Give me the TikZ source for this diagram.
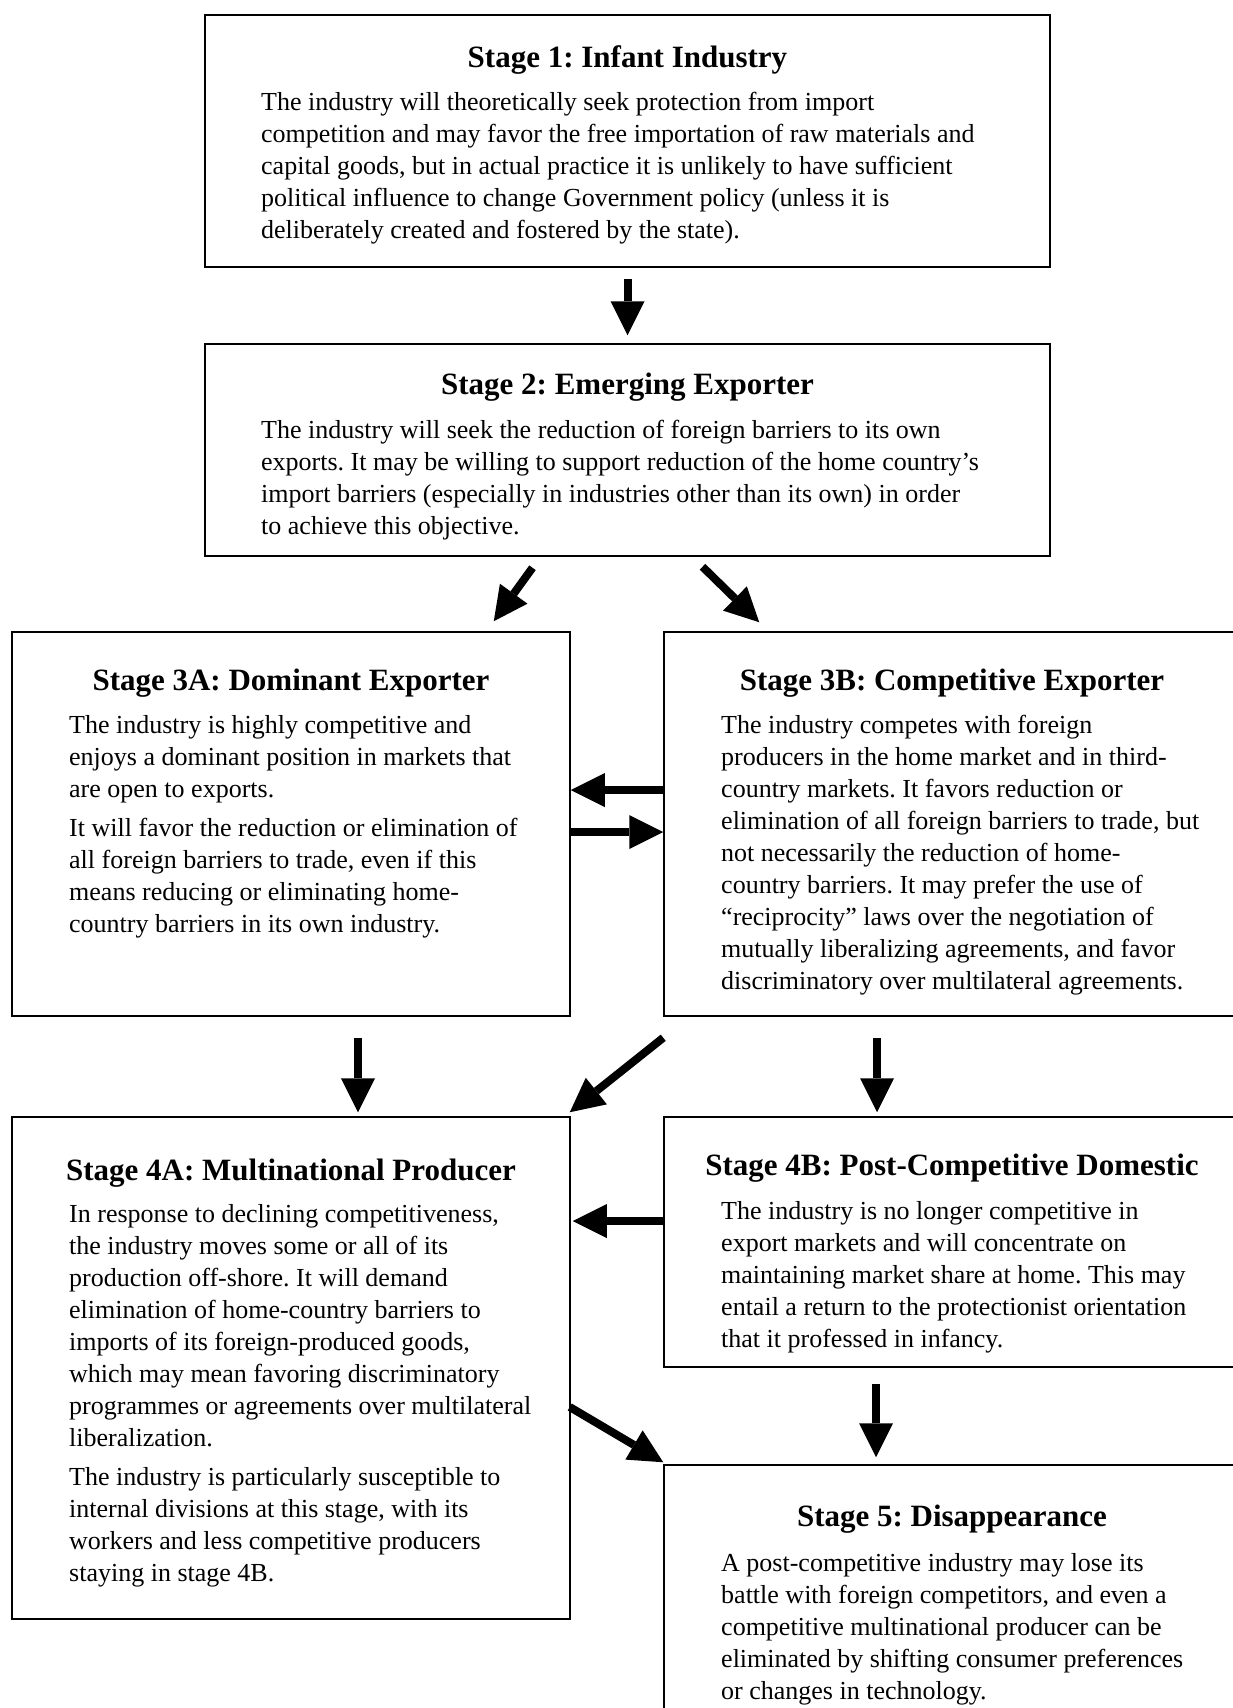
\documentclass[tikz,border=0pt]{standalone}
\usepackage{fontspec}
\setmainfont{Liberation Serif}
\usetikzlibrary{arrows.meta,positioning,calc}
\frenchspacing
\tikzset{stagebox/.style={draw, line width=1.5pt, inner sep=0pt}}
\tikzset{stagetitle/.style={font=\fontsize{31}{36}\selectfont\bfseries, inner sep=0pt}}
\tikzset{stagetext/.style={font=\fontsize{26}{32}\selectfont, align=left, anchor=north west, inner sep=0pt}}
\tikzset{flow/.style={-{Triangle[length=34pt,width=34pt,line width=0pt]}, line width=8pt}}

\begin{document}
\begin{tikzpicture}[x=1pt,y=-1pt]
\useasboundingbox (0,0) rectangle (1233,1708);
\clip (0,0) rectangle (1233,1708);

\node[stagebox, minimum width=845pt, minimum height=252pt] (s1) at (627.5,141) {};
\node[stagebox, minimum width=845pt, minimum height=212pt] (s2) at (627.5,450) {};
\node[stagebox, minimum width=558pt, minimum height=384pt] (s3a) at (291,824) {};
\node[stagebox, minimum width=576pt, minimum height=384pt] (s3b) at (952,824) {};
\node[stagebox, minimum width=558pt, minimum height=502pt] (s4a) at (291,1368) {};
\node[stagebox, minimum width=576pt, minimum height=250pt] (s4b) at (952,1242) {};
\node[stagebox, minimum width=576pt, minimum height=265pt] (s5) at (952,1597.5) {};

\node[stagetitle] (t1) at (627.5,60) {Stage 1: Infant Industry};
\node[stagetext] (b1) at (261,92) {The industry will theoretically seek protection from import\\
competition and may favor the free importation of raw materials and\\
capital goods, but in actual practice it is unlikely to have sufficient\\
political influence to change Government policy (unless it is\\
deliberately created and fostered by the state).};

\node[stagetitle] (t2) at (627.5,387) {Stage 2: Emerging Exporter};
\node[stagetext] (b2) at (261,420) {The industry will seek the reduction of foreign barriers to its own\\
exports. It may be willing to support reduction of the home country’s\\
import barriers (especially in industries other than its own) in order\\
to achieve this objective.};

\node[stagetitle] (t3a) at (291,683) {Stage 3A: Dominant Exporter};
\node[stagetext] (b3a) at (69,715) {The industry is highly competitive and\\
enjoys a dominant position in markets that\\
are open to exports.\\[7pt]
It will favor the reduction or elimination of\\
all foreign barriers to trade, even if this\\
means reducing or eliminating home-\\
country barriers in its own industry.};

\node[stagetitle] (t3b) at (952,683) {Stage 3B: Competitive Exporter};
\node[stagetext] (b3b) at (721,715) {The industry competes with foreign\\
producers in the home market and in third-\\
country markets. It favors reduction or\\
elimination of all foreign barriers to trade, but\\
not necessarily the reduction of home-\\
country barriers. It may prefer the use of\\
“reciprocity” laws over the negotiation of\\
mutually liberalizing agreements, and favor\\
discriminatory over multilateral agreements.};

\node[stagetitle] (t4a) at (291,1173) {Stage 4A: Multinational Producer};
\node[stagetext] (b4a) at (69,1204) {In response to declining competitiveness,\\
the industry moves some or all of its\\
production off-shore. It will demand\\
elimination of home-country barriers to\\
imports of its foreign-produced goods,\\
which may mean favoring discriminatory\\
programmes or agreements over multilateral\\
liberalization.\\[7pt]
The industry is particularly susceptible to\\
internal divisions at this stage, with its\\
workers and less competitive producers\\
staying in stage 4B.};

\node[stagetitle] (t4b) at (952,1168) {Stage 4B: Post-Competitive Domestic};
\node[stagetext] (b4b) at (721,1201) {The industry is no longer competitive in\\
export markets and will concentrate on\\
maintaining market share at home. This may\\
entail a return to the protectionist orientation\\
that it professed in infancy.};

\node[stagetitle] (t5) at (952,1519) {Stage 5: Disappearance};
\node[stagetext] (b5) at (721,1553) {A post-competitive industry may lose its\\
battle with foreign competitors, and even a\\
competitive multinational producer can be\\
eliminated by shifting consumer preferences\\
or changes in technology.};

\draw[flow, shorten <=11pt, shorten >=8pt] (s1.south) -- (s2.north);
\draw[flow] ($(s2.south)+(-95,11)$) -- ($(s3a.north east)+(-77,-10)$);
\draw[flow] ($(s2.south)+(75,10)$) -- ($(s3b.north west)+(96,-9)$);
\draw[flow] ($(s3b.west)+(0,-34)$) -- ($(s3a.east)+(0,-34)$);
\draw[flow] ($(s3a.east)+(0,8)$) -- ($(s3b.west)+(0,8)$);
\draw[flow] ($(s3a.south)+(67,21)$) -- ($(s4a.north)+(67,-4)$);
\draw[flow] ($(s3b.south west)+(0,21)$) -- ($(s4a.north east)+(-1,-4)$);
\draw[flow] ($(s3b.south)+(-75,21)$) -- ($(s4b.north)+(-75,-4)$);
\draw[flow] ($(s4b.west)+(0,-21)$) -- ($(s4b.west -| s4a.east)+(2,-21)$);
\draw[flow] ($(s4b.south)+(-76,16)$) -- ($(s5.north)+(-76,-7)$);
\draw[flow] ($(s4a.east)+(-1,39)$) -- ($(s5.north west)+(0,-2)$);
\end{tikzpicture}
\end{document}
